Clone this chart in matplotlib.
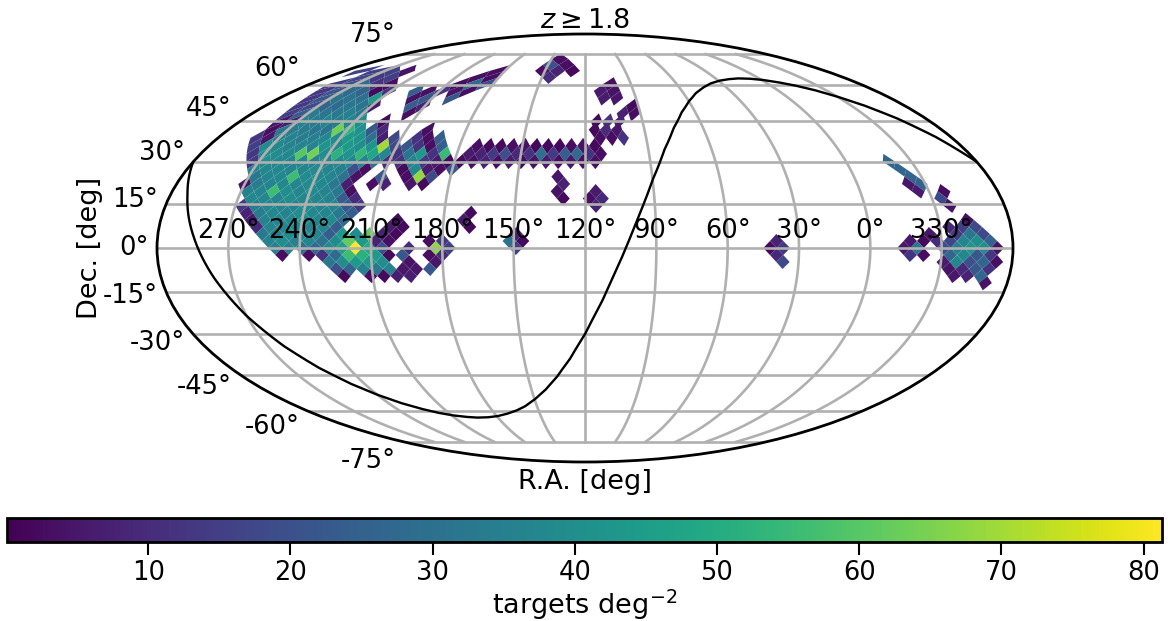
import numpy as np
import matplotlib
matplotlib.use("Agg")
import matplotlib.pyplot as plt
from matplotlib.collections import PolyCollection
from matplotlib.colors import Normalize

# sky cells, keyed by ring (north positive), column = R.A. / 2.8125 deg
cols_by_ring = {
    26: [49],
    25: [50, 48],
    24: [107, 105, 87, 85, 73, 51, 49, 47],
    23: [104, 88, 86, 74, 72, 50],
    22: [105, 103, 89, 87, 85, 75, 73, 71, 41],
    21: [104, 102, 90, 88, 86, 84, 80, 78, 76, 74, 72, 42, 40],
    20: [103, 101, 91, 89, 87, 85, 79, 77, 73, 41, 39],
    19: [102, 100, 92, 90, 88, 86, 84, 78, 76, 36],
    18: [101, 99, 93, 91, 89, 87, 85, 77, 37, 35],
    17: [100, 98, 94, 92, 90, 88, 86, 84, 80, 41, 39, 37],
    16: [99, 97, 95, 93, 91, 89, 87, 85, 83, 81, 79, 71, 41, 39, 37],
    15: [100, 98, 96, 94, 92, 90, 88, 86, 84, 82, 80, 78, 76, 72, 70, 68, 40, 38, 36],
    14: [99, 97, 95, 93, 91, 89, 87, 85, 83, 81, 79, 77, 75, 73, 71, 69, 67, 61, 59, 57, 55, 53, 51, 49, 47, 45, 43, 41],
    13: [98, 96, 94, 92, 90, 88, 86, 84, 82, 80, 78, 76, 74, 72, 70, 68, 66, 62, 60, 58, 56, 54, 52, 50, 48, 46, 44, 42, 40],
    12: [97, 95, 93, 91, 89, 87, 85, 83, 81, 79, 77, 75, 73, 71, 69, 67, 65, 63, 61, 59, 57, 55, 53, 51, 49, 47, 45, 43, 41, -7],
    11: [96, 94, 92, 90, 88, 86, 84, 82, 80, 78, 72, 70, 68, 66, 64, -8],
    10: [95, 93, 91, 89, 87, 85, 83, 81, 79, 75, 71, 69, 67, 47, -9],
    9: [96, 94, 92, 90, 88, 86, 84, 82, 80, 76, 74, 70, 68, 46, -8, -10],
    8: [95, 93, 91, 89, 87, 85, 83, 81, 79, 47, 41, -9, -13],
    7: [94, 92, 90, 88, 86, 84, 82, 80, 78, 46, 42, 40, -12],
    6: [95, 93, 91, 89, 87, 85, 83, 81, 79, 77, 41, -13],
    5: [94, 92, 90, 88, 86, 84, 82, 80, 78, 60],
    4: [93, 91, 89, 87, 85, 83, 81, 79, 71, 61, -15],
    3: [92, 90, 88, 86, 84, 82, 80, 72, 70, 60, -12, -14, -16],
    2: [91, 89, 87, 85, 83, 81, 79, 77, 75, 73, 71, 53, -9, -13, -15, -17],
    1: [90, 88, 86, 84, 82, 80, 78, 76, 74, 72, 66, 64, 54, 52, 14, -6, -8, -10, -12, -14, -16, -18],
    0: [89, 87, 85, 83, 81, 79, 77, 75, 73, 69, 65, 63, 53, 15, 13, -5, -7, -11, -13, -15, -17, -19],
    -1: [88, 84, 82, 80, 78, 76, 74, 72, 70, 66, 64, 14, -6, -8, -12, -14, -16, -18],
    -2: [81, 79, 77, 75, 73, 69, 65, 13, -11, -13, -15, -17, -19],
    -3: [80, 78, 76, 74, 72, 70, 68, 66, -12, -14, -16, -18],
    -4: [79, 75, 73, 71, 69, -13, -15, -17],
    -5: [-18],
}
density_by_ring = {
    26: [3],
    25: [20, 3],
    24: [16, 15, 15, 4, 3, 3, 8, 2],
    23: [17, 14, 15, 3, 3, 10],
    22: [15, 20, 28, 12, 3, 3, 28, 20, 3],
    21: [13, 22, 28, 26, 2, 12, 25, 3, 12, 4, 3, 6, 4],
    20: [13, 22, 31, 31, 30, 44, 4, 22, 22, 6, 5],
    19: [14, 18, 26, 28, 32, 31, 6, 24, 8, 2],
    18: [15, 24, 34, 32, 33, 35, 32, 3, 8, 3],
    17: [5, 7, 36, 34, 37, 34, 37, 40, 2, 2, 12, 8],
    16: [3, 33, 34, 34, 32, 31, 64, 54, 41, 22, 9, 3, 2, 10, 5],
    15: [13, 5, 34, 36, 34, 35, 38, 40, 44, 42, 30, 7, 18, 12, 3, 24, 3, 3, 12],
    14: [15, 39, 38, 36, 37, 36, 42, 38, 44, 40, 42, 70, 17, 22, 12, 3, 24, 3, 2, 2, 3, 4, 2, 2, 2, 3, 4, 2],
    13: [13, 39, 39, 38, 60, 64, 40, 52, 42, 54, 48, 38, 12, 32, 44, 12, 55, 6, 8, 14, 20, 9, 12, 30, 14, 24, 28, 12, 3],
    12: [14, 40, 38, 37, 38, 36, 37, 39, 38, 37, 30, 10, 12, 37, 14, 6, 2, 2, 3, 8, 3, 6, 2, 4, 6, 3, 5, 3, 3, 26],
    11: [36, 38, 38, 37, 37, 39, 37, 35, 20, 3, 2, 38, 6, 3, 22, 27],
    10: [33, 37, 38, 56, 39, 38, 37, 31, 4, 22, 3, 68, 18, 5, 26],
    9: [4, 34, 37, 38, 37, 39, 38, 33, 7, 3, 8, 5, 2, 8, 5, 26],
    8: [35, 37, 56, 40, 37, 39, 36, 33, 3, 4, 6, 6, 3],
    7: [38, 38, 37, 40, 38, 37, 36, 24, 10, 2, 3, 9, 18],
    6: [13, 34, 38, 37, 36, 39, 37, 37, 22, 13, 8, 4],
    5: [8, 34, 38, 36, 40, 38, 37, 33, 24, 2],
    4: [6, 36, 37, 38, 40, 37, 39, 28, 2, 6, 3],
    3: [9, 37, 37, 38, 36, 37, 24, 6, 2, 2, 9, 15, 18],
    2: [33, 36, 40, 38, 37, 24, 44, 39, 62, 8, 2, 7, 5, 14, 32, 18],
    1: [36, 40, 36, 37, 31, 39, 62, 44, 8, 3, 3, 14, 30, 2, 8, 5, 2, 10, 17, 37, 40, 25],
    0: [35, 36, 31, 28, 39, 46, 81, 49, 20, 10, 68, 15, 15, 2, 13, 5, 33, 20, 35, 42, 40, 4],
    -1: [3, 3, 12, 28, 56, 52, 44, 2, 22, 3, 10, 9, 12, 3, 27, 38, 22, 13],
    -2: [33, 40, 44, 44, 40, 4, 5, 18, 6, 38, 20, 27, 3],
    -3: [20, 26, 35, 33, 36, 5, 5, 22, 4, 9, 22, 12],
    -4: [2, 3, 2, 7, 7, 5, 8, 27],
    -5: [4],
}

# boundary curve
curve_ra = [300, 292.5, 285, 277.5, 270, 262.5, 255, 247.5, 240, 232.5, 225, 217.5, 210, 202.5, 195, 187.5, 180,
            172.5, 165, 157.5, 150, 142.5, 135, 127.5, 120, 112.5, 105, 97.5, 90, 82.5, 75, 67.5, 60, 52.5, 45,
            37.5, 30, 22.5, 15, 7.5, 0, -7.5, -15, -22.5, -30, -37.5, -45, -52.5, -60]
curve_dec = [29.9, 18.1, 4.2, -10.3, -23.5, -34.2, -42.4, -48.5, -53.0, -56.4, -58.8, -60.6, -61.8, -62.5, -62.9, -62.8, -62.3,
             -61.3, -59.9, -57.9, -55.0, -51.2, -46.1, -39.1, -29.9, -18.1, -4.2, 10.3, 23.5, 34.2, 42.4, 48.5, 53.0, 56.4, 58.8,
             60.6, 61.8, 62.5, 62.9, 62.8, 62.3, 61.3, 59.9, 57.9, 55.0, 51.2, 46.1, 39.1, 29.9]

ra_tick_labels = ["270°", "240°", "210°", "180°", "150°", "120°", "90°", "60°", "30°", "0°", "330°"]
colorbar_ticks = [10, 20, 30, 40, 50, 60, 70, 80]

STEP = 2.8125
CENTER_RA = 120.0


def cell_corner(xs, ring, facet):
    """Equal-area lattice point to (lon, lat) in radians."""
    s = ring / 16.0
    if abs(ring) <= 16:
        ra, z = xs, 2 * s / 3
    else:
        t = 2 - abs(s)
        ra, z = facet + (xs - facet) / t, np.sign(ring) * (1 - t * t / 3)
    return np.radians(CENTER_RA - ra), np.arcsin(z)


def cell_polygon(col, ring):
    facet = 45 + 90 * np.floor(col * STEP / 90)
    steps = [(1, 0), (0, 1), (-1, 0), (0, -1)]
    return [cell_corner((col + dc) * STEP, ring + dr, facet) for dc, dr in steps]


fig = plt.figure(figsize=(11.68, 6.21), dpi=100)
ax = fig.add_axes([157 / 1168, 159 / 621, 856 / 1168, 428 / 621], projection='mollweide')

polys, values = [], []
for ring in cols_by_ring:
    for col, val in zip(cols_by_ring[ring], density_by_ring[ring]):
        polys.append(cell_polygon(col, ring))
        values.append(val)

norm = Normalize(vmin=0.07, vmax=81.3)
cells = PolyCollection(polys, array=np.array(values, dtype=float), cmap='viridis', norm=norm,
                       linewidths=0, zorder=1)
ax.add_collection(cells)

ax.plot(np.radians(CENTER_RA - np.array(curve_ra)), np.radians(curve_dec), color='k', lw=1.7, zorder=3)

ax.set_longitude_grid_ends(75)
ax.grid(True, color='#b0b0b0', lw=1.9)
ax.set_xticklabels(ra_tick_labels)
ax.tick_params(labelsize=18.5)
for spine in ax.spines.values():
    spine.set_linewidth(2)
ax.set_title(r"$z \geq 1.8$", fontsize=19.5, pad=4)
ax.set_xlabel("R.A. [deg]", fontsize=19.5, labelpad=5)
ax.set_ylabel("Dec. [deg]", fontsize=19.5, labelpad=0)

cax = fig.add_axes([7 / 1168, 79 / 621, 1155 / 1168, 24 / 621])
cb = fig.colorbar(cells, cax=cax, orientation='horizontal', ticks=colorbar_ticks)
cb.outline.set_linewidth(2)
cb.ax.tick_params(length=9, width=1.5, labelsize=18.5, pad=4)
cb.set_label(r"targets deg$^{-2}$", fontsize=19.5, labelpad=1)

fig.savefig("out.png", dpi=100)
